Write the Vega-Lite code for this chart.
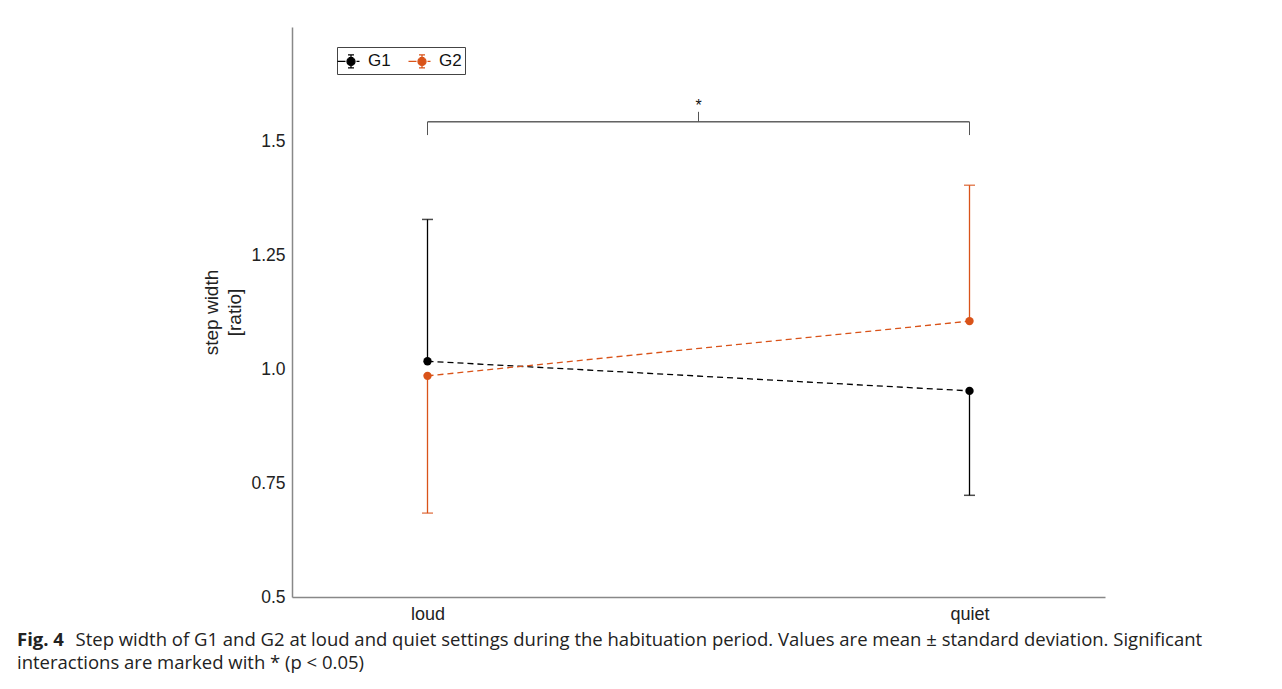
{
  "$schema": "https://vega.github.io/schema/vega-lite/v6.json",
  "width": 813,
  "height": 570,
  "autosize": {"type": "none"},
  "padding": {"left": 292, "top": 27, "right": 177, "bottom": 92},
  "background": "white",
  "config": {"view": {"stroke": null}, "font": "Liberation Sans"},
  "title": {
    "text": "Fig. 4",
    "subtitle": "interactions are marked with * (p < 0.05)",
    "orient": "bottom",
    "anchor": "start",
    "frame": "group",
    "dx": -275,
    "offset": -18,
    "font": "Open Sans",
    "fontSize": 18.5,
    "fontWeight": "bold",
    "color": "#222",
    "subtitleFont": "Open Sans",
    "subtitleFontSize": 18.5,
    "subtitleFontWeight": "normal",
    "subtitleColor": "#222",
    "subtitlePadding": 5
  },
  "datasets": {
    "stats": [
      {"setting": "loud", "pos": 1, "group": "G1", "val": 1.017, "val2": 1.328},
      {"setting": "quiet", "pos": 2, "group": "G1", "val": 0.952, "val2": 0.723},
      {"setting": "loud", "pos": 1, "group": "G2", "val": 0.985, "val2": 0.684},
      {"setting": "quiet", "pos": 2, "group": "G2", "val": 1.105, "val2": 1.403}
    ]
  },
  "encoding": {
    "x": {
      "field": "pos",
      "type": "quantitative",
      "scale": {"domain": [0.75, 2.25], "nice": false, "zero": false},
      "axis": {
        "values": [1, 2],
        "labelExpr": "datum.value == 1 ? 'loud' : 'quiet'",
        "grid": false,
        "ticks": false,
        "domainColor": "#888",
        "domainWidth": 1.5,
        "labelFont": "Liberation Sans",
        "labelFontSize": 18,
        "labelColor": "#222",
        "labelPadding": 8,
        "title": "Step width of G1 and G2 at loud and quiet settings during the habituation period. Values are mean ± standard deviation. Significant",
        "titleFont": "Open Sans",
        "titleFontWeight": "normal",
        "titleFontSize": 18.5,
        "titleColor": "#222",
        "titleX": -217,
        "titleY": 48,
        "titleAlign": "left",
        "titleAnchor": "start",
        "titleBaseline": "alphabetic"
      }
    },
    "y": {
      "field": "val",
      "type": "quantitative",
      "scale": {"domain": [0.5, 1.75], "nice": false, "zero": false},
      "axis": {
        "values": [0.5, 0.75, 1, 1.25, 1.5],
        "labelExpr": "datum.value == 0.5 ? '0.5' : datum.value == 0.75 ? '0.75' : datum.value == 1 ? '1.0' : datum.value == 1.25 ? '1.25' : '1.5'",
        "grid": false,
        "ticks": false,
        "domainColor": "#888",
        "domainWidth": 1.5,
        "labelFont": "Liberation Sans",
        "labelFontSize": 17.5,
        "labelColor": "#222",
        "labelPadding": 7,
        "title": ["step width", "[ratio]"],
        "titleFont": "Liberation Sans",
        "titleFontSize": 19,
        "titleFontWeight": "normal",
        "titleColor": "#222",
        "titlePadding": 6,
        "titleLineHeight": 23
      }
    },
    "color": {
      "field": "group",
      "type": "nominal",
      "scale": {"domain": ["G1", "G2"], "range": ["#000000", "#D95319"]},
      "legend": {
        "title": null,
        "orient": "none",
        "legendX": 45,
        "legendY": 20,
        "direction": "horizontal",
        "symbolType": "M-1.35,0H-0.55M0.55,0H0.85M0,-0.65V0.65M-0.3,-0.65H0.3M-0.3,0.65H0.3M0.4,0A0.4,0.4 0 1,1 -0.4,0A0.4,0.4 0 1,1 0.4,0Z",
        "symbolSize": 400,
        "symbolStrokeWidth": 1.3,
        "labelFont": "Liberation Sans",
        "labelFontSize": 17,
        "labelColor": "#111",
        "labelOffset": 6,
        "columnPadding": 14,
        "padding": 3,
        "strokeColor": "#444",
        "fillColor": "white",
        "cornerRadius": 0,
        "encode": {
          "symbols": {
            "update": {
              "fill": {"scale": "color", "field": "value"},
              "stroke": {"scale": "color", "field": "value"},
              "strokeWidth": {"value": 1.3},
              "strokeDash": {"value": []},
              "opacity": {"value": 1}
            }
          }
        }
      }
    }
  },
  "layer": [
    {
      "data": {"values": [{"pos": 1, "pos2": 2, "val": 1.542}]},
      "mark": {"type": "rule", "strokeWidth": 1},
      "encoding": {"x2": {"field": "pos2"}, "color": {"value": "#111"}}
    },
    {
      "data": {"values": [
        {"pos": 1, "val": 1.542, "val2": 1.513},
        {"pos": 2, "val": 1.542, "val2": 1.513},
        {"pos": 1.5, "val": 1.542, "val2": 1.564}
      ]},
      "mark": {"type": "rule", "strokeWidth": 1},
      "encoding": {"y2": {"field": "val2"}, "color": {"value": "#555"}}
    },
    {
      "data": {"values": [{"pos": 1.5, "val": 1.576, "label": "*"}]},
      "mark": {"type": "text", "font": "Liberation Sans", "fontSize": 16, "baseline": "middle"},
      "encoding": {"text": {"field": "label"}, "color": {"value": "#111"}}
    },
    {
      "data": {"name": "stats"},
      "mark": {"type": "rule", "strokeWidth": 1.3},
      "encoding": {"y2": {"field": "val2"}}
    },
    {
      "data": {"name": "stats"},
      "mark": {"type": "tick", "orient": "horizontal", "size": 11, "thickness": 1.5},
      "encoding": {
        "y": {
          "field": "val2",
          "type": "quantitative",
          "scale": {"domain": [0.5, 1.75], "nice": false, "zero": false},
          "axis": {
            "values": [0.5, 0.75, 1, 1.25, 1.5],
            "labelExpr": "datum.value == 0.5 ? '0.5' : datum.value == 0.75 ? '0.75' : datum.value == 1 ? '1.0' : datum.value == 1.25 ? '1.25' : '1.5'",
            "grid": false,
            "ticks": false,
            "domainColor": "#888",
            "domainWidth": 1.5,
            "labelFont": "Liberation Sans",
            "labelFontSize": 17.5,
            "labelColor": "#222",
            "labelPadding": 7,
            "title": ["step width", "[ratio]"],
            "titleFont": "Liberation Sans",
            "titleFontSize": 19,
            "titleFontWeight": "normal",
            "titleColor": "#222",
            "titlePadding": 6,
            "titleLineHeight": 23
          }
        }
      }
    },
    {
      "data": {"name": "stats"},
      "mark": {"type": "line", "strokeWidth": 1.3, "strokeDash": [6, 4]},
      "encoding": {"order": {"field": "pos"}}
    },
    {
      "data": {"name": "stats"},
      "mark": {"type": "point", "filled": true, "size": 70, "opacity": 1},
      "encoding": {}
    }
  ]
}
